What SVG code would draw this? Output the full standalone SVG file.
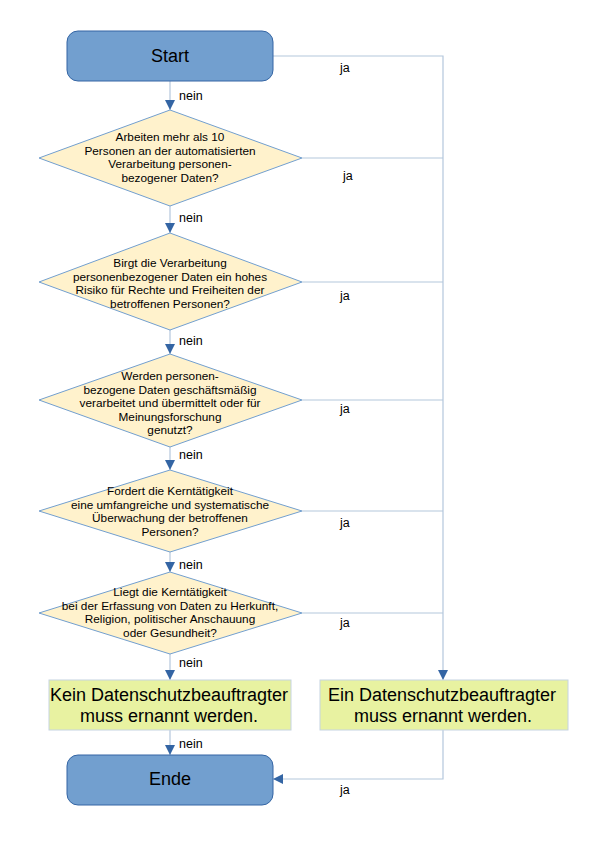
<svg xmlns="http://www.w3.org/2000/svg" width="595" height="842" viewBox="0 0 595 842">
<defs>
<marker id="arr" viewBox="0 0 10 10" refX="10" refY="5" markerWidth="10" markerHeight="10" markerUnits="userSpaceOnUse" orient="auto">
<path d="M0,0 L10,5 L0,10 z" fill="#3465a4"/>
</marker>
<style>
.term{fill:#729fcf;stroke:#3465a4;stroke-width:1}
.dec{fill:#fff2cc;stroke:#729fcf;stroke-width:1}
.box{fill:#e8f2a1;stroke:#c6d4e2;stroke-width:1}
.con{fill:none;stroke:#b4c7dc;stroke-width:1.2}
.arr{marker-end:url(#arr)}
text{font-family:"Liberation Sans",Arial,sans-serif;fill:#000}
.dt{font-size:11.8px;text-anchor:middle}
.bt{font-size:18px;text-anchor:middle}
.lb{font-size:12.5px}
</style>
</defs>
<rect width="595" height="842" fill="#fff"/>
<g id="connectors">
<path class="con arr" d="M170,81 V110"/>
<path class="con arr" d="M170,206 V233"/>
<path class="con arr" d="M170,330 V354"/>
<path class="con arr" d="M170,447 V470"/>
<path class="con arr" d="M170,552 V572"/>
<path class="con arr" d="M170,654 V680"/>
<path class="con arr" d="M170,730 V755"/>
<path class="con arr" d="M273,56 H443 V680"/>
<path class="con" d="M302,158 H443"/>
<path class="con" d="M302,282 H443"/>
<path class="con" d="M302,400 H443"/>
<path class="con" d="M302,511 H443"/>
<path class="con" d="M302,613 H443"/>
<path class="con arr" d="M443,730 V779 H273"/>
<text class="lb" x="179" y="100">nein</text>
<text class="lb" x="179" y="222">nein</text>
<text class="lb" x="179" y="345">nein</text>
<text class="lb" x="179" y="459">nein</text>
<text class="lb" x="179" y="569">nein</text>
<text class="lb" x="179" y="667">nein</text>
<text class="lb" x="179" y="748">nein</text>
<text class="lb" x="340" y="72">ja</text>
<text class="lb" x="343" y="180">ja</text>
<text class="lb" x="340" y="300">ja</text>
<text class="lb" x="340" y="413">ja</text>
<text class="lb" x="340" y="527">ja</text>
<text class="lb" x="340" y="627">ja</text>
<text class="lb" x="340" y="794">ja</text>
</g>
<g id="start">
<rect class="term" x="67" y="31" width="206" height="50" rx="11" ry="11"/>
<text class="bt" x="170" y="62">Start</text>
</g>
<g id="d1">
<polygon class="dec" points="170,110 302,158 170,206 39,158"/>
<text class="dt"><tspan x="170" y="141">Arbeiten mehr als 10</tspan><tspan x="170" y="154.5">Personen an der automatisierten</tspan><tspan x="170" y="168">Verarbeitung personen-</tspan><tspan x="170" y="181.5">bezogener Daten?</tspan></text>
</g>
<g id="d2">
<polygon class="dec" points="170,233 302,282 170,330 39,282"/>
<text class="dt"><tspan x="170" y="267">Birgt die Verarbeitung</tspan><tspan x="170" y="280.5">personenbezogener Daten ein hohes</tspan><tspan x="170" y="294">Risiko für Rechte und Freiheiten der</tspan><tspan x="170" y="307.5">betroffenen Personen?</tspan></text>
</g>
<g id="d3">
<polygon class="dec" points="170,354 302,400 170,447 39,400"/>
<text class="dt"><tspan x="170" y="380">Werden personen-</tspan><tspan x="170" y="393.5">bezogene Daten geschäftsmäßig</tspan><tspan x="170" y="407">verarbeitet und übermittelt oder für</tspan><tspan x="170" y="420.5">Meinungsforschung</tspan><tspan x="170" y="434">genutzt?</tspan></text>
</g>
<g id="d4">
<polygon class="dec" points="170,470 302,511 170,552 39,511"/>
<text class="dt"><tspan x="170" y="495">Fordert die Kerntätigkeit</tspan><tspan x="170" y="508.5">eine umfangreiche und systematische</tspan><tspan x="170" y="522">Überwachung der betroffenen</tspan><tspan x="170" y="535.5">Personen?</tspan></text>
</g>
<g id="d5">
<polygon class="dec" points="170,572 302,613 170,654 39,613"/>
<text class="dt"><tspan x="170" y="596">Liegt die Kerntätigkeit</tspan><tspan x="170" y="609.5">bei der Erfassung von Daten zu Herkunft,</tspan><tspan x="170" y="623">Religion, politischer Anschauung</tspan><tspan x="170" y="636.5">oder Gesundheit?</tspan></text>
</g>
<g id="kein">
<rect class="box" x="49" y="680" width="242" height="50"/>
<text class="bt"><tspan x="169" y="701">Kein Datenschutzbeauftragter</tspan><tspan x="169" y="722">muss ernannt werden.</tspan></text>
</g>
<g id="ein">
<rect class="box" x="320" y="680" width="248" height="50"/>
<text class="bt"><tspan x="442" y="701">Ein Datenschutzbeauftragter</tspan><tspan x="443" y="722">muss ernannt werden.</tspan></text>
</g>
<g id="ende">
<rect class="term" x="67" y="755" width="206" height="50" rx="11" ry="11"/>
<text class="bt" x="170" y="785">Ende</text>
</g>
</svg>
